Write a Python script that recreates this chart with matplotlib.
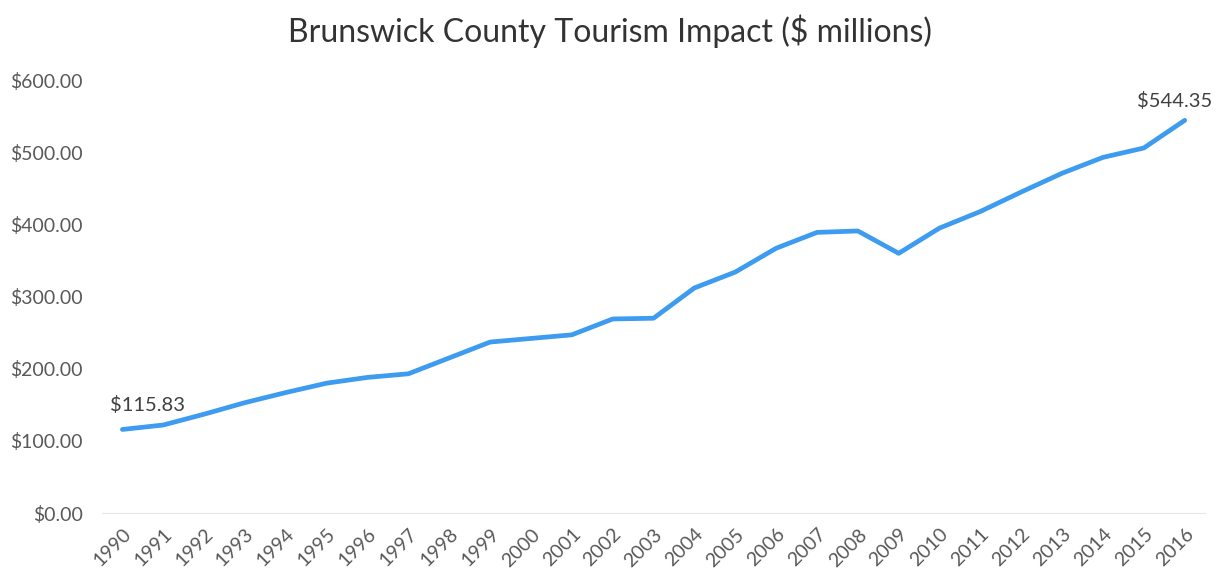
import matplotlib.pyplot as plt
from matplotlib.ticker import FuncFormatter

plt.rcParams['font.family'] = ['Lato', 'DejaVu Sans']

# data ($ millions)
years = list(range(1990, 2017))
impact = [115.83, 122, 137, 153, 167, 180, 188, 193, 215, 237, 242, 247,
          269, 270, 312, 334, 367, 389, 391, 360, 395, 418, 445, 471,
          493, 506, 544.35]

fig = plt.figure(figsize=(12.21, 5.81), dpi=100)
ax = fig.add_axes([0.0835, 0.117, 0.9035, 0.745])

x = list(range(len(years)))
ax.plot(x, impact, color='#3d9bf0', lw=3.4, solid_capstyle='round',
        solid_joinstyle='round')

ax.set_xlim(-0.5, len(years) - 0.5)
ax.set_ylim(0, 600)
ax.set_yticks(range(0, 601, 100))
ax.yaxis.set_major_formatter(FuncFormatter(lambda v, p: '${:,.2f}'.format(v)))
ax.set_xticks(x)
ax.set_xticklabels([str(y) for y in years], rotation=45, ha='right',
                   rotation_mode='anchor')

for s in ['top', 'right', 'left']:
    ax.spines[s].set_visible(False)
ax.spines['bottom'].set_color('#e6e6e6')
ax.tick_params(length=0, labelsize=14, colors='#595959')
ax.tick_params(axis='y', pad=14)
ax.tick_params(axis='x', pad=9)

# data labels on first and last points
ax.annotate('${:.2f}'.format(impact[0]), (x[0], impact[0]),
            xytext=(25, 24), textcoords='offset pixels',
            ha='center', va='center', fontsize=14.5, color='#404040')
ax.annotate('${:.2f}'.format(impact[-1]), (x[-1], impact[-1]),
            xytext=(-10, 19), textcoords='offset pixels',
            ha='center', va='center', fontsize=14.5, color='#404040')

fig.suptitle('Brunswick County Tourism Impact ($ millions)', fontsize=23,
             color='#333333', y=0.975)

fig.savefig('out.png', dpi=100)
